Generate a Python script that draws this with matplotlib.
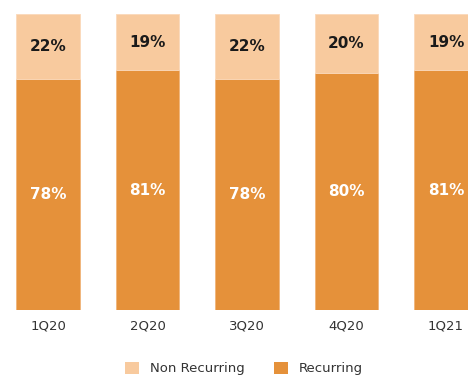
import numpy as np
import matplotlib
matplotlib.use('Agg')
import matplotlib.pyplot as plt
from matplotlib.patches import Patch

quarters = ['1Q20', '2Q20', '3Q20', '4Q20', '1Q21']
recurring = [78, 81, 78, 80, 81]
non_recurring = [22, 19, 22, 20, 19]

c_rec = '#E5913A'
c_non = '#F8CA9E'

fig = plt.figure(figsize=(4.68, 3.76), dpi=100)
ax = fig.add_axes([0, 66/376, 1, 296/376])

x = np.arange(len(quarters))
w = 0.643
ax.bar(x, recurring, w, color=c_rec, edgecolor='#F0B57A', linewidth=0.6)
ax.bar(x, non_recurring, w, bottom=recurring, color=c_non, edgecolor='#FAD9BA', linewidth=0.6)

for i in range(len(quarters)):
    ax.text(x[i], recurring[i]/2, f'{recurring[i]}%', ha='center', va='center',
            color='white', fontsize=11, fontweight='bold')
    ax.text(x[i], recurring[i] + non_recurring[i]/2, f'{non_recurring[i]}%', ha='center', va='center',
            color='#1a1a1a', fontsize=11, fontweight='bold')

ax.set_xlim(-48/99.5, 420/99.5)
ax.set_ylim(0, 100)
ax.set_xticks(x)
ax.set_xticklabels(quarters, fontsize=9.5, color='#333333')
ax.tick_params(axis='x', length=0, pad=7)
ax.set_yticks([])
for s in ax.spines.values():
    s.set_visible(False)

handles = [Patch(facecolor=c_non, label='Non Recurring'), Patch(facecolor=c_rec, label='Recurring')]
fig.legend(handles=handles, loc='center', bbox_to_anchor=(0.521, 0.02), ncol=2, frameon=False,
           fontsize=9.5, handlelength=1.1, handleheight=1.1, columnspacing=2.2, handletextpad=0.8,
           labelcolor='#333333')

plt.savefig('out.png', dpi=100)
